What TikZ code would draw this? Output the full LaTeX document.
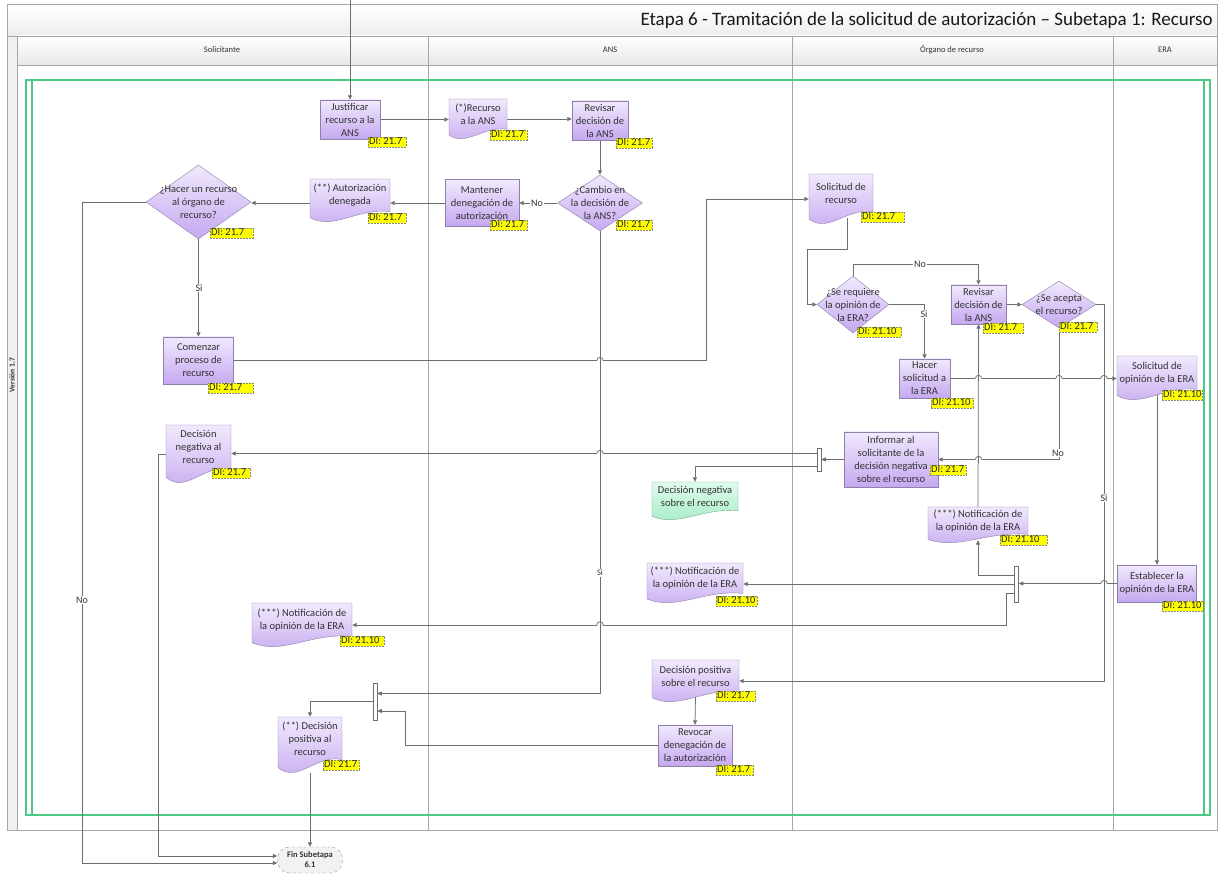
\documentclass[tikz,border=0pt]{standalone}
\usepackage{fontspec}
\setmainfont{Carlito}
\usetikzlibrary{arrows.meta,calc,shapes.geometric}
\pgfdeclarelayer{frame}
\pgfdeclarelayer{lines}
\pgfsetlayers{frame,lines,main}
\definecolor{lanegray}{HTML}{A6A6A6}
\definecolor{linegray}{HTML}{6E6E6E}
\definecolor{purpletop}{HTML}{F1E9FD}
\definecolor{purplebot}{HTML}{C5A8F0}
\definecolor{purpleedge}{HTML}{8E80A6}
\definecolor{greentop}{HTML}{E0FBEC}
\definecolor{greenbot}{HTML}{A0EAC4}
\definecolor{greenedge}{HTML}{7FA89A}
\definecolor{frameGreen}{HTML}{4CC983}
\definecolor{txtgray}{HTML}{333333}
\definecolor{tagedge}{HTML}{8A8A70}
\definecolor{tagfill}{HTML}{FFFF00}
\tikzset{
  proc/.style={draw=purpleedge, top color=purpletop, bottom color=purplebot, inner sep=0pt, align=center,
    font=\fontsize{10.5}{13}\selectfont, text=txtgray},
  docbox/.style={draw=none, inner sep=0pt},
  docpurple/.style={draw=purpleedge, top color=purpletop, bottom color=purplebot},
  docgreen/.style={draw=greenedge, top color=greentop, bottom color=greenbot},
  txt/.style={align=center, font=\fontsize{10.5}{13}\selectfont, text=txtgray, inner sep=0pt},
  dia/.style={diamond, draw=purpleedge, top color=purpletop, bottom color=purplebot, inner sep=0pt},
  tag/.style={draw=tagedge, dash pattern=on 2pt off 1pt, fill=tagfill, inner xsep=1pt, inner ysep=0pt,
    minimum height=10pt, anchor=north west, font=\fontsize{10.5}{10}\selectfont,
    text height=7pt, text depth=1.5pt, text=black!85},
  arr/.style={draw=linegray, line width=0.75pt, -{Triangle[length=4.5pt,width=4pt]}},
  conn/.style={draw=linegray, line width=0.75pt},
  lbl/.style={fill=white, inner sep=1pt, font=\fontsize{10}{10}\selectfont, text=txtgray},
  bar/.style={draw=linegray, fill=white, minimum width=4pt, inner sep=0pt, line width=0.6pt},
  lane/.style={draw=lanegray, line width=0.8pt},
  lanetxt/.style={font=\fontsize{8.5}{9}\selectfont, text=txtgray},
}
\newcommand\docnode[7]{%
  \node[docbox, minimum width=#4pt, minimum height=#5pt] (#1) at (#2,#3) {};
  \path[#7] ({#2-#4/2},{#3-#5/2}) -- ({#2+#4/2},{#3-#5/2}) -- ({#2+#4/2},{#3-#5/2+0.76*#5})
    .. controls ({#2+#4/2-0.4*#4},{#3-#5/2+0.66*#5}) and ({#2-#4/2+0.3*#4},{#3-#5/2+1.2*#5}) ..
    ({#2-#4/2},{#3-#5/2+0.9*#5}) -- cycle;
  \node[txt] (#1-t) at (#2,{#3-0.12*#5}) {#6};
}
\newcommand\dianode[6]{%
  \node[dia, minimum width=#4pt, minimum height=#5pt] (#1) at (#2,#3) {};
  \node[txt] (#1-t) at (#1.center) {#6};
}
\newcommand\ditag[5]{%
  \node[tag] (#1) at (#2,#3) {\makebox[#4pt][l]{DI: #5}};
}
% line jump: horizontal line at y jumps over vertical line at x
\newcommand\hop[2]{%
  \fill[white] ({#1-3.2},{#2-1}) rectangle ({#1+3.2},{#2+1});
  \draw[conn] (#1,{#2-3.5}) -- (#1,{#2+3.5});
  \draw[conn] ({#1-3.2},#2) arc[start angle=180, end angle=360, radius=3.2];
}
\begin{document}
\begin{tikzpicture}[x=1pt,y=-1pt]
\useasboundingbox (0,0) rectangle (1219,874);
% ---------- frame ----------
\begin{pgfonlayer}{frame}
  \fill[white] (0,0) rectangle (1219,874);
  \shade[top color=white, bottom color=black!7] (7,4) rectangle (1217,36);
  \shade[top color=white, bottom color=black!9] (17,36) rectangle (1217,65);
  \fill[black!6] (7,36) rectangle (17,830);
  \draw[lane] (7,4) rectangle (1217,830);
  \draw[lane] (7,36) -- (1217,36);
  \draw[lane] (17,65) -- (1217,65);
  \draw[lane] (17,36) -- (17,830);
  \draw[lane] (428,36) -- (428,830);
  \draw[lane] (792,36) -- (792,830);
  \draw[lane] (1113,36) -- (1113,830);
  \draw[frameGreen, line width=1.2pt] (26,80) rectangle (1210,815);
  \draw[frameGreen, line width=1.2pt] (32,80) -- (32,815);
  \draw[frameGreen, line width=1.2pt] (1204,80) -- (1204,815);
\end{pgfonlayer}
\node[anchor=east, font=\fontsize{19}{21}\selectfont, text=black!90, inner sep=0pt] (title) at (1213,20)
  {Etapa 6 - Tramitación de la solicitud de autorización – Subetapa 1: Recurso};
\node[lanetxt] (l1) at (222,50) {Solicitante};
\node[lanetxt] (l2) at (610,50) {ANS};
\node[lanetxt] (l3) at (952,50) {Órgano de recurso};
\node[lanetxt] (l4) at (1165,50) {ERA};
\node[rotate=90, font=\bfseries\fontsize{7.5}{8}\selectfont, text=txtgray] (ver) at (12,375) {Versión 1.7};

% ---------- processes ----------
\node[proc, minimum width=60pt, minimum height=39pt] (just) at (350,119.5) {Justificar\\recurso a la\\ANS};
\node[proc, minimum width=56pt, minimum height=39pt] (revans) at (600,120.5) {Revisar\\decisión de\\la ANS};
\node[proc, minimum width=74pt, minimum height=47pt] (mant) at (482,203) {Mantener\\denegación de\\autorización};
\node[proc, minimum width=70pt, minimum height=47pt] (comenzar) at (198.5,360.5) {Comenzar\\proceso de\\recurso};
\node[proc, minimum width=55pt, minimum height=39pt] (revisar2) at (978.5,304.5) {Revisar\\decisión de\\la ANS};
\node[proc, minimum width=51pt, minimum height=39pt] (hacer) at (924.5,378.5) {Hacer\\solicitud a\\la ERA};
\node[proc, minimum width=79pt, minimum height=37pt] (estab) at (1157,583.5) {Establecer la\\opinión de la ERA};
\node[proc, minimum width=94pt, minimum height=55pt] (informar) at (891,459.5) {Informar al\\solicitante de la\\decisión negativa\\sobre el recurso};
\node[proc, minimum width=74pt, minimum height=41pt] (revocar) at (695,745.5) {Revocar\\denegación de\\la autorización};

% ---------- documents ----------
\docnode{recans}{478}{119}{58}{40}{(*)Recurso\\a la ANS}{docpurple}
\docnode{autden}{350}{200.5}{80}{43}{(**) Autorización\\denegada}{docpurple}
\docnode{solrec}{841}{199}{64}{50}{Solicitud de\\recurso}{docpurple}
\docnode{solop}{1157}{378}{80}{44}{Solicitud de\\opinión de la ERA}{docpurple}
\docnode{notif1}{978}{525}{100}{36}{(***) Notificación de\\la opinión de la ERA}{docpurple}
\docnode{notif2}{695}{583}{96}{40}{(***) Notificación de\\la opinión de la ERA}{docpurple}
\docnode{notif3}{302}{625}{100}{44}{(***) Notificación de\\la opinión de la ERA}{docpurple}
\docnode{decneg}{198.5}{454}{65}{58}{Decisión\\negativa al\\recurso}{docpurple}
\docnode{decnegsob}{695}{501}{86}{38}{Decisión negativa\\sobre el recurso}{docgreen}
\docnode{decpos}{695.5}{681}{87}{42}{Decisión positiva\\sobre el recurso}{docpurple}
\docnode{decposal}{310}{745}{64}{56}{(**) Decisión\\positiva al\\recurso}{docpurple}

% ---------- decisions ----------
\dianode{cambio}{600}{203}{85}{56}{¿Cambio en\\la decisión de\\la ANS?}
\dianode{hacerrec}{198.5}{202}{105}{74}{¿Hacer un recurso\\al órgano de\\recurso?}
\dianode{sereq}{853}{304.5}{72}{57}{¿Se requiere\\la opinión de\\la ERA?}
\dianode{acepta}{1059}{304.5}{74}{47}{¿Se acepta\\el recurso?}

% ---------- bars and end ----------
\node[bar, minimum height=23pt] (bar1) at (819,459.5) {};
\node[bar, minimum height=36pt] (bar3) at (1016.5,584) {};
\node[bar, minimum height=37pt] (bar2) at (375,701.5) {};
\node[draw=black!45, dashed, fill=black!5, rounded corners=12pt, minimum width=65pt, minimum height=26pt,
  inner sep=0pt, align=center, font=\bfseries\fontsize{8.5}{10}\selectfont, text=txtgray] (fin) at (310,860) {Fin Subetapa\\6.1};

% ---------- DI tags ----------
\ditag{t1}{368}{137}{36}{21.7}
\ditag{t2}{490}{130}{35}{21.7}
\ditag{t3}{616}{138}{34}{21.7}
\ditag{t4}{616}{220}{34}{21.7}
\ditag{t5}{490}{220}{35}{21.7}
\ditag{t6}{368}{213}{36}{21.7}
\ditag{t7}{210}{228}{41}{21.7}
\ditag{t8}{208}{383}{43}{21.7}
\ditag{t9}{861}{212}{41}{21.7}
\ditag{t10}{857}{327}{42}{21.10}
\ditag{t11}{983}{323}{38}{21.7}
\ditag{t12}{1059}{322}{36}{21.7}
\ditag{t13}{931}{398}{40}{21.10}
\ditag{t14}{1162}{390}{38}{21.10}
\ditag{t15}{1162}{601}{39}{21.10}
\ditag{t16}{1000}{535}{45}{21.10}
\ditag{t17}{930}{465}{34}{21.7}
\ditag{t18}{212}{468}{36}{21.7}
\ditag{t19}{716}{596}{39}{21.10}
\ditag{t20}{340}{636}{42}{21.10}
\ditag{t21}{716}{691}{37}{21.7}
\ditag{t22}{716}{765}{35}{21.7}
\ditag{t23}{323}{760}{34}{21.7}

% ---------- connectors ----------
\begin{pgfonlayer}{lines}
  \coordinate (topin) at (350,0);
  \draw[arr] (topin) -- (just.north);
  \draw[arr] (just.east) -- (just.east -| recans.west);
  \draw[arr] (recans.east) -- (recans.east -| revans.west);
  \draw[arr] (revans.south) -- (cambio.north);
  \draw[arr] (cambio.west) -- (cambio.west -| mant.east);
  \draw[arr] (mant.west) -- (mant.west -| autden.east);
  \draw[arr] (autden.west |- mant.west) -- (mant.west -| hacerrec.east);
  \draw[arr] (hacerrec.south) -- (comenzar.north);
  \coordinate (noX) at (82,863);
  \draw[arr] (hacerrec.west) -| (noX) -- (noX -| fin.west);
  \coordinate (negX) at (158,856);
  \draw[arr] (decneg.west) -| (negX) -- (negX -| fin.west);
  \draw[arr] (decposal.south) -- (fin.north);
  \coordinate (c706) at (706,0);
  \draw[arr] (comenzar.east) -- (comenzar.east -| c706) |- (solrec.west);
  \coordinate (sA) at (847,249);
  \coordinate (sB) at (807,249);
  \draw[arr] ($(solrec.south)+(6,-6)$) -- (sA) -- (sB) |- (sereq.west);
  \coordinate (noY) at (0,264);
  \draw[arr] (sereq.north) -- (sereq.north |- noY) -| (revisar2.north);
  \draw[arr] (sereq.east) -| (hacer.north);
  \draw[arr] (revisar2.east) -- (acepta.west);
  \coordinate (siX) at (1104,0);
  \draw[arr] (acepta.east) -- (acepta.east -| siX) |- (decpos.east);
  \draw[arr] (acepta.south) |- (informar.east);
  \draw[arr] (hacer.east) -- (hacer.east -| solop.west);
  \draw[arr] ($(solop.south)+(0,-6)$) -- (estab.north);
  \draw[arr] (estab.west) -- (estab.west -| bar3.east);
  \coordinate (b3a) at ($(bar3.west)+(0,-9)$);
  \coordinate (b3c) at ($(bar3.west)+(0,9)$);
  \draw[arr] (b3a) -| ($(notif1.south)+(0,-3)$);
  \draw[arr] (bar3.west) -- (bar3.west -| notif2.east);
  \draw[arr] (b3c) -- ++(-8,0) |- (notif3.east);
  \draw[arr] (notif1.north) -- (revisar2.south);
  \draw[arr] (informar.west) -- (informar.west -| bar1.east);
  \coordinate (b1a) at ($(bar1.west)+(0,-6)$);
  \coordinate (b1b) at ($(bar1.west)+(0,7)$);
  \draw[arr] (b1a) -- (b1a -| decneg.east);
  \draw[arr] (b1b) -| (decnegsob.north);
  \coordinate (b2a) at ($(bar2.east)+(0,-8)$);
  \coordinate (b2b) at ($(bar2.east)+(0,9.5)$);
  \coordinate (r405) at (405,0);
  \draw[arr] (cambio.south) |- (b2a);
  \draw[arr] (revocar.west) -- (revocar.west -| r405) |- (b2b);
  \draw[arr] (bar2.west) -| (decposal.north);
  \draw[arr] ($(decpos.south)+(0,-5)$) -- (revocar.north);
  % line jumps
  \hop{600}{360.5}
  \hop{600}{453.5}
  \hop{600}{625}
  \hop{978.5}{378.5}
  \hop{1059}{378.5}
  \hop{1104}{378.5}
  \hop{978.5}{459.5}
  \hop{1104}{583.5}
\end{pgfonlayer}

% ---------- connector labels ----------
\node[lbl] (lbNo1) at (537,203) {No};
\node[lbl] (lbSi1) at (199,288) {Si};
\node[lbl] (lbNo2) at (82,600) {No};
\node[lbl] (lbNo3) at (920,264) {No};
\node[lbl] (lbSi2) at (924,314) {Si};
\node[lbl] (lbNo4) at (1058,453) {No};
\node[lbl] (lbSi3) at (1104,498) {Si};
\node[lbl, font=\fontsize{8.5}{9}\selectfont] (lbSi4) at (600,573) {Si};
\end{tikzpicture}
\end{document}
